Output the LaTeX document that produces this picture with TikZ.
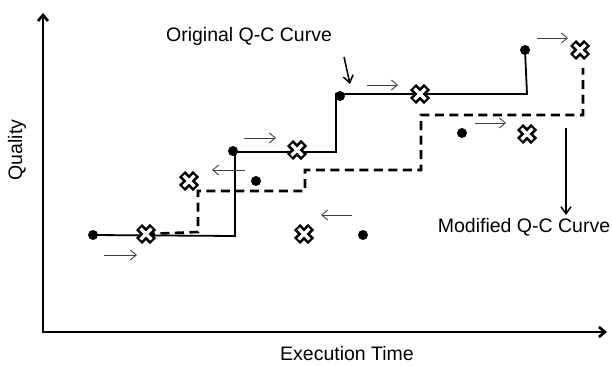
\documentclass[tikz,border=0pt]{standalone}
\usepackage{fontspec}
\setmainfont{Liberation Sans}
\usetikzlibrary{arrows.meta, positioning, calc}

\begin{document}
\begin{tikzpicture}[
  x=1pt, y=-1pt,
  >={Straight Barb[length=6pt,width=10pt]},
  axis/.style={draw, line width=2.6pt},
  origcurve/.style={draw, line width=1.8pt},
  modcurve/.style={draw, line width=2.6pt, dash pattern=on 9pt off 5.5pt},
  move/.style={draw, black!75, line width=0.9pt, -{Straight Barb[length=6pt,width=10pt]}},
  callout/.style={draw, line width=1.5pt, -{Straight Barb[length=7pt,width=10pt]}},
  lbl/.style={font=\fontsize{19.5}{23}\selectfont, inner sep=0pt},
  qcross/.pic={
    \draw[line width=8.5pt] (-7,-7) -- (7,7) (-7,7) -- (7,-7);
    \draw[white, line width=3.2pt] (-5.4,-5.4) -- (5.4,5.4) (-5.4,5.4) -- (5.4,-5.4);
  }
  ]
  \useasboundingbox (0,0) rectangle (612,366);
  % axes
  \coordinate (O)    at ( 43,332);
  \coordinate (ytop) at ( 43, 13);
  \coordinate (xend) at (607,332);
  \draw[axis, <->] (ytop) -- (O) -- (xend);
  \node[lbl, anchor=base] (xlbl) at (347,360) {Execution Time};
  \node[lbl, rotate=90] (ylbl) at (17,150) {Quality};
  % points before the change
  \coordinate (o1) at ( 93,235);
  \coordinate (o2) at (233,151);
  \coordinate (o3) at (340,96);
  \coordinate (o4) at (525,50);
  \coordinate (o5) at (256,181);
  \coordinate (o6) at (462,133);
  \coordinate (o7) at (363,235);
  % points after the change
  \coordinate (c1) at (146,234);
  \coordinate (c2) at (189,181);
  \coordinate (c3) at (297,150);
  \coordinate (c4) at (420,94);
  \coordinate (c5) at (580,50);
  \coordinate (c6) at (527,134);
  \coordinate (c7) at (304,234);
  % original Q-C curve
  \draw[origcurve] (o1) -- (235,236) -- (235,152) -- (336,152) -- (336,94) -- (527,94) -- (o4);
  % modified Q-C curve
  \draw[modcurve] (c1) -- (198,232) -- (198,191) -- (305,191) -- (305,170) -- (421,170)
    -- (421,115) -- (583,115) -- (583,68);
  \fill (o1) circle (5pt);
  \fill (o2) circle (5pt);
  \fill (o3) circle (5pt);
  \fill (o4) circle (5pt);
  \fill (o5) circle (5pt);
  \fill (o6) circle (5pt);
  \fill (o7) circle (5pt);
  \pic at (c1) {qcross};
  \pic at (c2) {qcross};
  \pic at (c3) {qcross};
  \pic at (c4) {qcross};
  \pic at (c5) {qcross};
  \pic at (c6) {qcross};
  \pic at (c7) {qcross};
  % moves
  \draw[move] (104,255) -- (137,255);
  \draw[move] (244,138) -- (276,138);
  \draw[move] (245,170) -- (212,170);
  \draw[move] (367,85) -- (398,85);
  \draw[move] (352,215) -- (321,215);
  \draw[move] (475,123) -- (506,123);
  \draw[move] (537,38) -- (568,38);
  % labels
  \node[lbl, anchor=base] (origlbl) at (249,42) {Original Q-C Curve};
  \coordinate (origtail) at (344,57);
  \coordinate (origtip)  at (350,84);
  \draw[callout] (origtail) -- (origtip);
  \node[lbl, anchor=base] (modlbl) at (524,232) {Modified Q-C Curve};
  \coordinate (modtail) at (566,128);
  \coordinate (modtip)  at (566,215);
  \draw[callout] (modtail) -- (modtip);
\end{tikzpicture}
\end{document}
